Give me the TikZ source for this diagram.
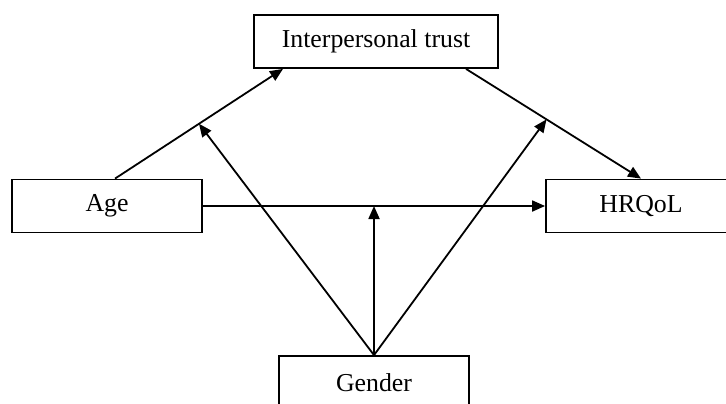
\documentclass[tikz,border=0pt]{standalone}
\usepackage{fontspec}
\setmainfont{Liberation Serif}
\usetikzlibrary{arrows.meta,positioning}

\begin{document}
\begin{tikzpicture}[
  x=0.5pt, y=-0.5pt,
  font=\fontsize{12.9}{15}\selectfont,
  box/.style={draw, line width=0.9pt, minimum width=95pt, minimum height=26.5pt, inner sep=0pt},
  arr/.style={-{Triangle[length=6.5pt,width=5.5pt]}, line width=0.9pt}
]
\useasboundingbox (0,0) rectangle (726,403);
\clip (0,0) rectangle (726,403);
\node[box, minimum width=122pt] (trust) at (376,41.5) {Interpersonal trust};
\node[box] (age) at (107,206) {Age};
\node[box] (hrqol) at (641,206) {HRQoL};
\node[box] (gender) at (374,382.5) {Gender};
\draw[arr] ([xshift=4pt]age.north) -- coordinate[pos=0.5] (m1) ([xshift=-46.5pt]trust.south);
\draw[arr] ([xshift=45pt]trust.south) -- coordinate[pos=0.46] (m2) (hrqol.north);
\draw[arr] (age.east) -- coordinate[pos=0.5] (m3) (hrqol.west);
\draw[arr] (gender.north) -- (m1);
\draw[arr] (gender.north) -- (m2);
\draw[arr] (gender.north) -- (m3);
\end{tikzpicture}
\end{document}
